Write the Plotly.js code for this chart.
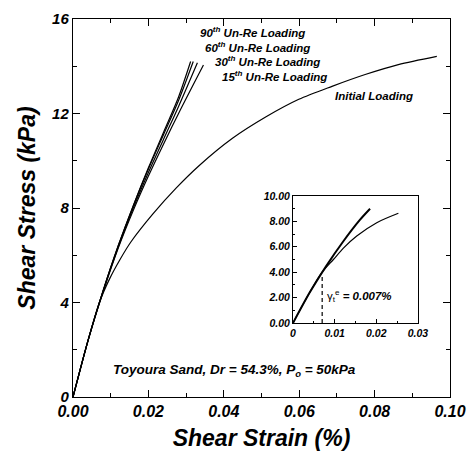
<!DOCTYPE html>
<html>
<head>
<meta charset="utf-8">
<script src="https://cdn.plot.ly/plotly-3.0.1.min.js"></script>
<style>html,body{margin:0;padding:0;background:#fff;}</style>
</head>
<body>
<div id="chart" style="width:476px;height:459px;"></div>
<script>
// Initial loading curve
const initX = [0, 0.004, 0.007, 0.0097, 0.0124, 0.0153, 0.0212, 0.0274, 0.0335, 0.0423, 0.0511, 0.0599, 0.0687, 0.0775, 0.0863, 0.0965];
const initY = [0, 2.4, 4.0, 5.0, 5.8, 6.55, 7.75, 8.85, 9.8, 10.95, 11.85, 12.6, 13.15, 13.65, 14.07, 14.42];
// Unloading-reloading curves
const ur90X = [0, 0.004, 0.008, 0.012, 0.016, 0.020, 0.024, 0.028, 0.0312];
const ur90Y = [0, 2.4, 4.5, 6.4, 8.1, 9.7, 11.2, 12.7, 14.2];
const ur60X = [0, 0.004, 0.008, 0.012, 0.016, 0.020, 0.024, 0.028, 0.0319];
const ur60Y = [0, 2.4, 4.5, 6.4, 8.1, 9.65, 11.1, 12.55, 14.2];
const ur30X = [0, 0.004, 0.008, 0.012, 0.016, 0.020, 0.024, 0.028, 0.0330];
const ur30Y = [0, 2.4, 4.5, 6.35, 8.0, 9.5, 10.9, 12.3, 14.15];
const ur15X = [0, 0.004, 0.008, 0.012, 0.016, 0.020, 0.024, 0.028, 0.0346];
const ur15Y = [0, 2.4, 4.45, 6.3, 7.9, 9.35, 10.7, 12.0, 14.05];
// Inset data
const insInitX = [0, 0.004, 0.007, 0.0097, 0.0121, 0.0153, 0.0201, 0.0253];
const insInitY = [0, 2.4, 4.0, 5.0, 5.9, 6.85, 7.9, 8.64];
const insUrX = [0, 0.004, 0.008, 0.012, 0.016, 0.0185];
const insUrY = [0, 2.4, 4.5, 6.4, 8.1, 9.0];
const thrX = [0.007, 0.007];
const thrY = [0, 3.8];
// Tick labels
const mainXTicks = [0, 0.02, 0.04, 0.06, 0.08, 0.10];
const mainXLabels = ['0.00', '0.02', '0.04', '0.06', '0.08', '0.10'];
const mainYTicks = [0, 4, 8, 12, 16];
const insXTicks = [0, 0.01, 0.02, 0.03];
const insXLabels = ['0', '0.01', '0.02', '0.03'];
const insYTicks = [0, 2, 4, 6, 8, 10];
const insYLabels = ['0.00', '2.00', '4.00', '6.00', '8.00', '10.00'];

const FF = 'Liberation Sans, Arial, sans-serif';
const ln = {color: '#000', width: 1.2, shape: 'spline', smoothing: 0.8};

const traces = [
  {x: initX, y: initY, mode: 'lines', line: ln, xaxis: 'x', yaxis: 'y'},
  {x: ur90X, y: ur90Y, mode: 'lines', line: ln, xaxis: 'x', yaxis: 'y'},
  {x: ur60X, y: ur60Y, mode: 'lines', line: ln, xaxis: 'x', yaxis: 'y'},
  {x: ur30X, y: ur30Y, mode: 'lines', line: ln, xaxis: 'x', yaxis: 'y'},
  {x: ur15X, y: ur15Y, mode: 'lines', line: ln, xaxis: 'x', yaxis: 'y'},
  {x: insInitX, y: insInitY, mode: 'lines', line: ln, xaxis: 'x2', yaxis: 'y2'},
  {x: insUrX, y: insUrY, mode: 'lines', line: {color: '#000', width: 2, shape: 'spline', smoothing: 0.8}, xaxis: 'x2', yaxis: 'y2'},
  {x: thrX, y: thrY, mode: 'lines', line: {color: '#000', width: 1.2, dash: '4px,3px'}, xaxis: 'x2', yaxis: 'y2'}
];

const tfx = {family: FF, size: 16, color: '#000', weight: 'bold', style: 'italic'};
const tfy = {family: FF, size: 15, color: '#000', weight: 'bold', style: 'italic'};
const tfs = {family: FF, size: 10.5, color: '#000', weight: 'bold', style: 'italic'};
const af = {family: FF, size: 11.5, color: '#000', weight: 'bold', style: 'italic'};
const ttl = {family: FF, size: 23, color: '#000', weight: 'bold', style: 'italic'};

const layout = {
  width: 476, height: 459,
  margin: {l: 73, r: 26, t: 19, b: 62},
  paper_bgcolor: '#fff', plot_bgcolor: '#fff',
  showlegend: false,
  xaxis: {
    domain: [0, 1], range: [0, 0.10], tickvals: mainXTicks, ticktext: mainXLabels,
    ticks: 'inside', ticklen: 7, tickcolor: '#000', showgrid: false, zeroline: false,
    showline: true, linecolor: '#000', linewidth: 1.2, mirror: 'ticks',
    minor: {dtick: 0.01, ticks: 'inside', ticklen: 4, tickcolor: '#000', showgrid: false},
    tickfont: tfx,
    title: {text: 'Shear Strain (%)', font: ttl, standoff: 10}
  },
  yaxis: {
    domain: [0, 1], range: [0, 16], tickvals: mainYTicks,
    ticks: 'inside', ticklen: 7, tickcolor: '#000', showgrid: false, zeroline: false,
    showline: true, linecolor: '#000', linewidth: 1.2, mirror: 'ticks',
    minor: {dtick: 2, ticks: 'inside', ticklen: 4, tickcolor: '#000', showgrid: false},
    tickfont: tfy,
    title: {text: 'Shear Stress (kPa)', font: ttl, standoff: 10}
  },
  xaxis2: {
    domain: [0.5836, 0.915], anchor: 'y2', range: [0, 0.03], tickvals: insXTicks, ticktext: insXLabels,
    ticks: 'inside', ticklen: 4, tickcolor: '#000', showgrid: false, zeroline: false,
    showline: true, linecolor: '#000', linewidth: 1, mirror: true,
    minor: {dtick: 0.005, ticks: 'inside', ticklen: 2, tickcolor: '#000', showgrid: false},
    tickfont: tfs
  },
  yaxis2: {
    domain: [0.1958, 0.5317], anchor: 'x2', range: [0, 10], tickvals: insYTicks, ticktext: insYLabels,
    ticks: 'inside', ticklen: 4, tickcolor: '#000', showgrid: false, zeroline: false,
    showline: true, linecolor: '#000', linewidth: 1, mirror: true,
    minor: {dtick: 1, ticks: 'inside', ticklen: 2, tickcolor: '#000', showgrid: false},
    tickfont: tfs
  },
  annotations: [
    {xref: 'paper', yref: 'paper', x: 0.331, y: 0.965, xanchor: 'left', yanchor: 'middle', showarrow: false, text: '90<sup>th</sup> Un-Re Loading', font: af},
    {xref: 'paper', yref: 'paper', x: 0.344, y: 0.927, xanchor: 'left', yanchor: 'middle', showarrow: false, text: '60<sup>th</sup> Un-Re Loading', font: af},
    {xref: 'paper', yref: 'paper', x: 0.371, y: 0.888, xanchor: 'left', yanchor: 'middle', showarrow: false, text: '30<sup>th</sup> Un-Re Loading', font: af},
    {xref: 'paper', yref: 'paper', x: 0.390, y: 0.850, xanchor: 'left', yanchor: 'middle', showarrow: false, text: '15<sup>th</sup> Un-Re Loading', font: af},
    {xref: 'paper', yref: 'paper', x: 0.690, y: 0.797, xanchor: 'left', yanchor: 'middle', showarrow: false, text: 'Initial Loading', font: af},
    {xref: 'paper', yref: 'paper', x: 0.100, y: 0.071, xanchor: 'left', yanchor: 'middle', showarrow: false, text: 'Toyoura Sand, Dr = 54.3%, P<sub>o</sub> = 50kPa', font: {family: FF, size: 13.5, color: '#000', weight: 'bold', style: 'italic'}},
    {xref: 'x2', yref: 'y2', x: 0.0078, y: 2.1, xanchor: 'left', yanchor: 'middle', showarrow: false, text: '<span style="font-weight:normal;font-style:normal">γ<sub>t</sub><sup>e</sup></span> = 0.007%', font: {family: FF, size: 11.5, color: '#000', weight: 'bold', style: 'italic'}}
  ]
};

Plotly.newPlot('chart', traces, layout, {staticPlot: true, displayModeBar: false});
</script>
</body>
</html>
